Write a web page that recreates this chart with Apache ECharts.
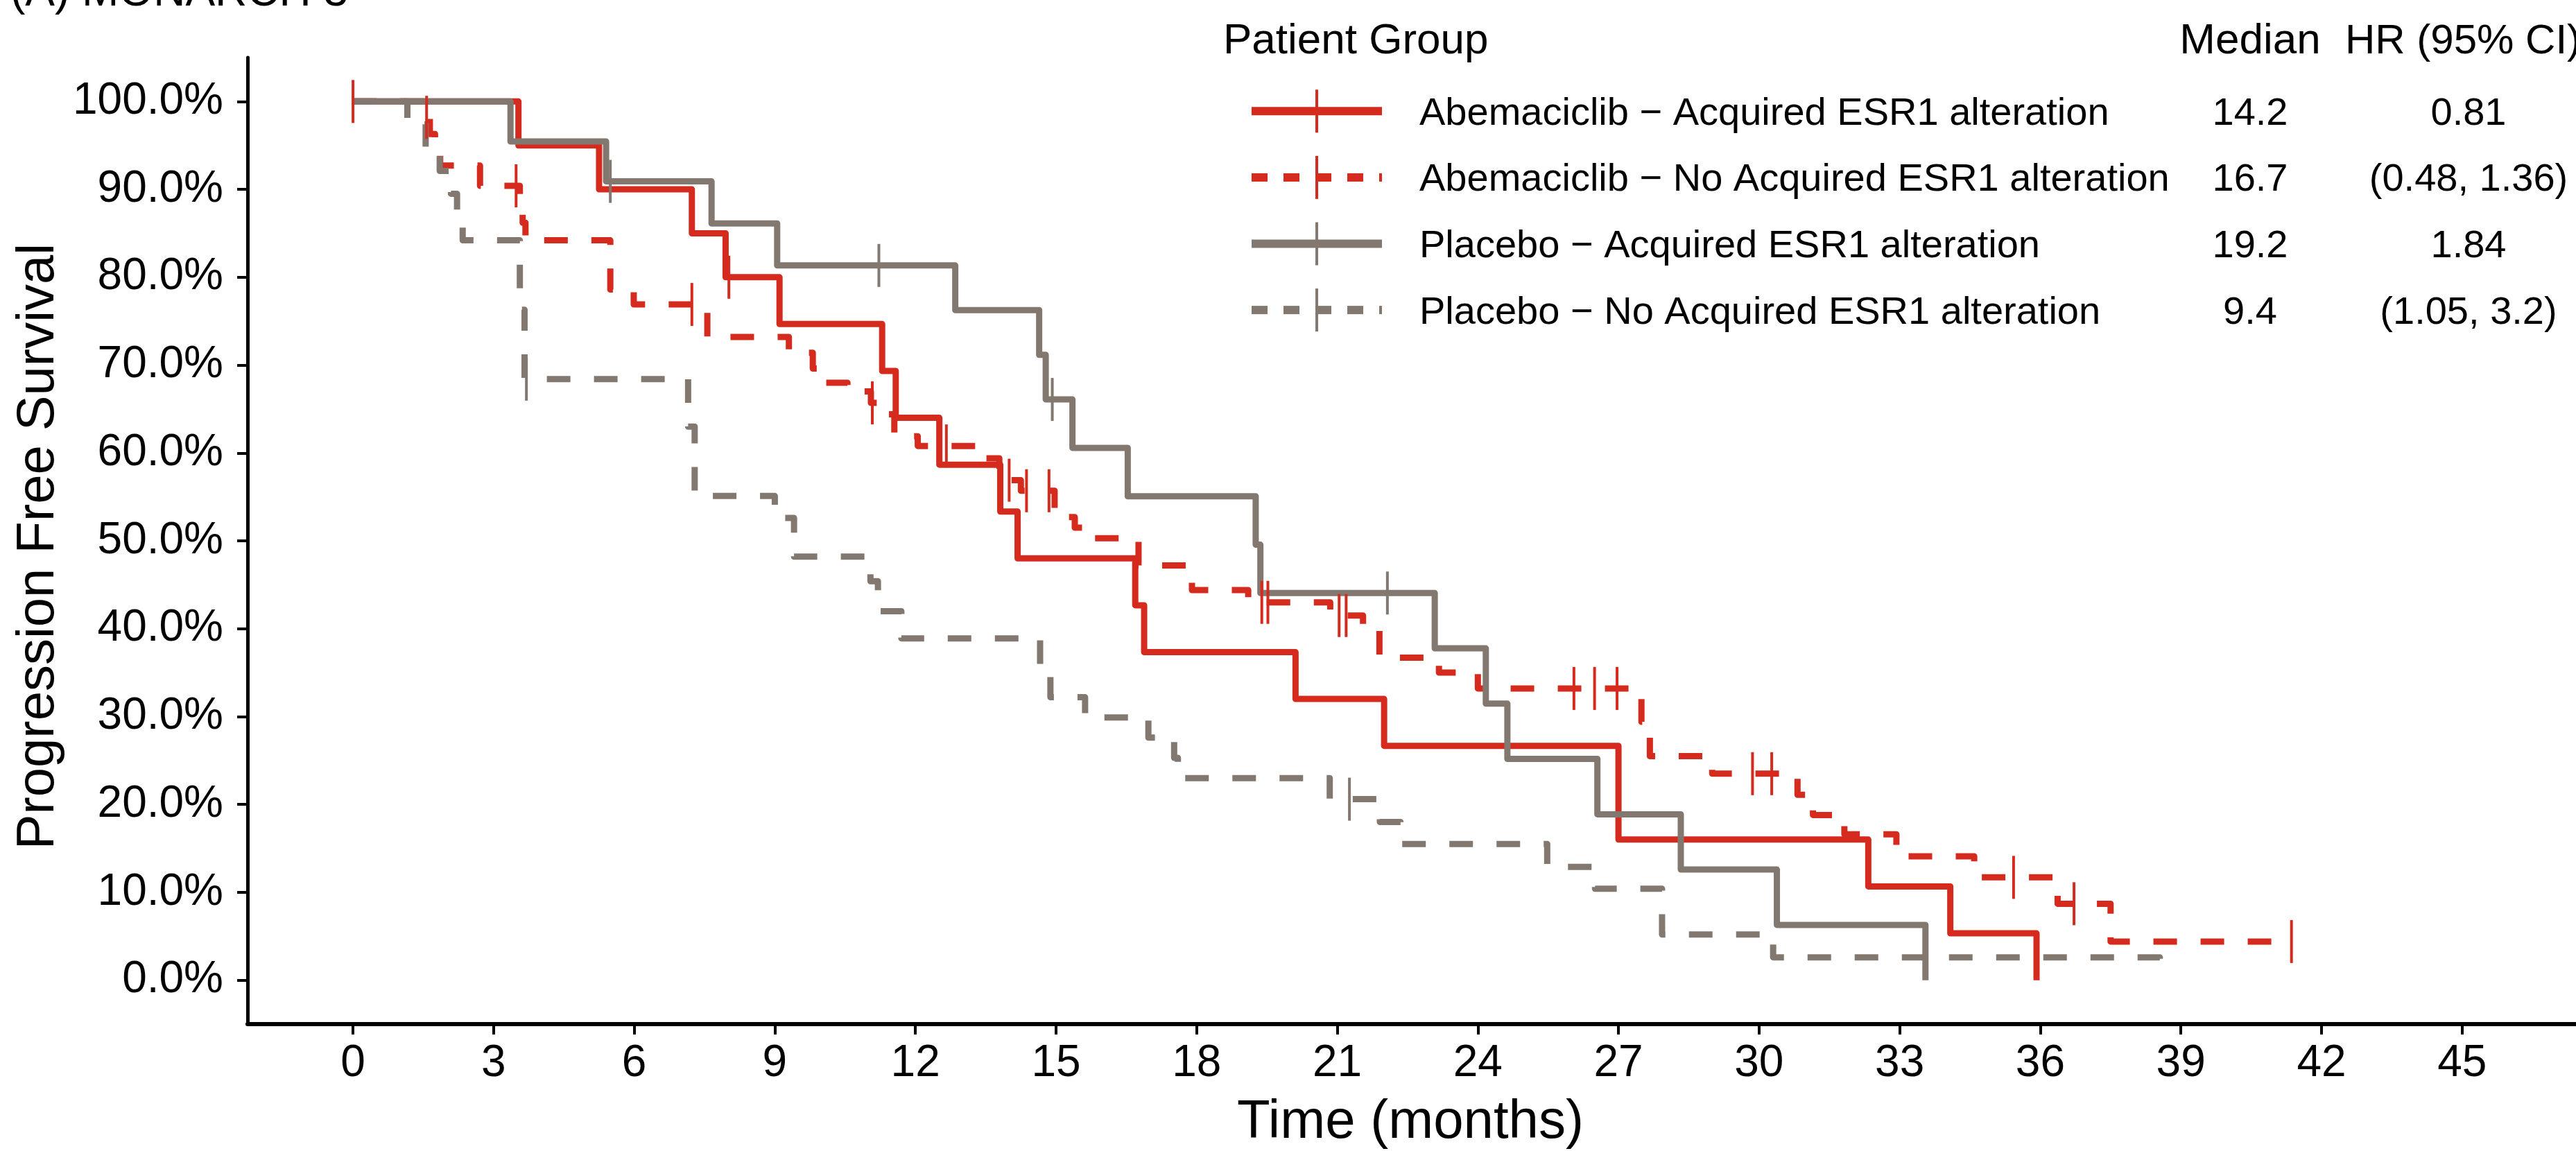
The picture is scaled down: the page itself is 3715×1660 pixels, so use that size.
<!DOCTYPE html>
<html>
<head>
<meta charset="utf-8">
<title>Progression Free Survival by ESR1 alteration</title>
<script src="https://cdn.jsdelivr.net/npm/echarts@6/dist/echarts.min.js"></script>
<style>
  html, body { margin: 0; padding: 0; background: #ffffff; }
  #chart { width: 3715px; height: 1660px; }
</style>
</head>
<body>
<div id="chart"></div>
<script>
// ---- Data -------------------------------------------------------------
const panelTitle = '(A) MONARCH 3';
const xAxisTitle = 'Time (months)';
const yAxisTitle = 'Progression Free Survival';

const xTicks = [0, 3, 6, 9, 12, 15, 18, 21, 24, 27, 30, 33, 36, 39, 42, 45];
const yTicks = [0, 10, 20, 30, 40, 50, 60, 70, 80, 90, 100];

const legendHeader = ['Patient Group', 'Median', 'HR (95% CI)'];
const groupNames = [
  'Abemaciclib \u2212 Acquired ESR1 alteration',
  'Abemaciclib \u2212 No Acquired ESR1 alteration',
  'Placebo \u2212 Acquired ESR1 alteration',
  'Placebo \u2212 No Acquired ESR1 alteration'
];
const medians = ['14.2', '16.7', '19.2', '9.4'];
const hrText = ['0.81', '(0.48, 1.36)', '1.84', '(1.05, 3.2)'];

// Kaplan-Meier steps: event times (months) and survival (%) after each step
const abemaAcqTime = [0, 3.53, 5.25, 7.23, 7.95, 9.1, 11.29, 11.58, 12.51, 13.81, 14.18,
  16.69, 16.88, 20.11, 22.0, 27.0, 32.33, 34.08, 35.92];
const abemaAcqSurv = [100, 95, 90, 85, 80, 74.67, 69.33, 64, 58.67, 53.33, 48,
  42.67, 37.33, 32, 26.67, 16, 10.67, 5.33, 0];
const abemaAcqCensor = [0, 8.02];

const abemaNoAcqTime = [0, 1.5, 1.64, 1.75, 1.86, 2.71, 3.56, 3.62, 3.68, 5.49, 5.99,
  7.56, 9.3, 9.81, 10.07, 10.55, 11.05, 11.24, 11.55, 12.05, 13.37, 13.79, 14.25,
  14.97, 15.4, 15.74, 16.76, 17.9, 19.1, 20.85, 21.55, 21.9, 23.17, 24.0, 27.49,
  27.67, 29.0, 30.82, 31.15, 31.82, 32.93, 34.59, 36.37, 37.5, 41.36];
const abemaNoAcqSurv = [100, 98.2, 96.3, 94.5, 92.7, 90.4, 88.3, 86.2, 84.2, 78.6, 76.9,
  73.2, 71.4, 69.6, 68.0, 67.0, 65.7, 64.4, 61.9, 60.8, 59.4, 56.9, 55.7,
  52.7, 51.5, 50.3, 47.2, 44.4, 43.0, 41.5, 39.9, 36.7, 35.0, 33.2, 29.4,
  25.5, 23.5, 21.1, 18.8, 16.6, 14.1, 11.7, 8.7, 4.4, 4.4];
const abemaNoAcqCensor = [1.57, 3.48, 7.23, 11.08, 12.66, 14.0, 14.37, 14.85, 19.39, 19.52,
  21.04, 21.19, 26.05, 26.49, 26.97, 29.86, 30.27, 35.43, 36.72, 41.36];

const placeboAcqTime = [0, 3.36, 5.4, 7.65, 9.05, 12.85, 14.64, 14.78, 15.35, 16.53, 19.26,
  19.36, 23.08, 24.17, 24.63, 26.55, 28.33, 30.38, 33.55];
const placeboAcqSurv = [100, 95.45, 90.91, 86.12, 81.34, 76.26, 71.17, 66.09, 60.58, 55.07, 49.56,
  44.06, 37.76, 31.47, 25.18, 18.88, 12.59, 6.29, 0];
const placeboAcqCensor = [5.49, 11.22, 14.92, 22.07];

const placeboNoAcqTime = [0, 1.16, 1.55, 1.85, 2.09, 2.22, 2.34, 3.56, 3.66, 7.15, 7.29,
  9.0, 9.41, 11.04, 11.2, 11.7, 14.66, 14.88, 15.62, 16.97, 17.52, 17.6, 20.84,
  21.91, 22.35, 25.48, 26.5, 27.93, 30.3, 38.55];
const placeboNoAcqSurv = [100, 97.4, 94.7, 92.1, 89.5, 86.8, 84.2, 76.3, 68.4, 63.0, 55.1,
  52.6, 48.2, 45.4, 42.0, 38.9, 35.6, 32.2, 29.9, 27.6, 25.3, 23.0, 20.6,
  18.0, 15.5, 12.9, 10.4, 5.2, 2.6, 0];
const placeboNoAcqCensor = [3.7, 21.26];

// ---- Styling -----------------------------------------------------------
const RED = '#D52B1E';
const GRAY = '#82786F';
const FONT = "'Liberation Sans', Arial, Helvetica, sans-serif";
const DASH = [34, 34];

const groups = [
  { time: abemaAcqTime, surv: abemaAcqSurv, censor: abemaAcqCensor, color: RED, dashed: false },
  { time: abemaNoAcqTime, surv: abemaNoAcqSurv, censor: abemaNoAcqCensor, color: RED, dashed: true },
  { time: placeboAcqTime, surv: placeboAcqSurv, censor: placeboAcqCensor, color: GRAY, dashed: false },
  { time: placeboNoAcqTime, surv: placeboNoAcqSurv, censor: placeboNoAcqCensor, color: GRAY, dashed: true }
];

// survival level of a step curve at time t
function levelAt(times, surv, t) {
  let v = surv[0];
  for (let i = 0; i < times.length; i++) {
    if (times[i] <= t) v = surv[i]; else break;
  }
  return v;
}

const lineSeries = groups.map((g, i) => ({
  name: groupNames[i],
  type: 'line',
  step: 'end',
  symbol: 'none',
  showSymbol: false,
  silent: true,
  animation: false,
  z: 2,
  data: g.time.map((t, k) => [t, g.surv[k]]),
  lineStyle: {
    color: g.color,
    width: 9,
    type: g.dashed ? DASH : 'solid',
    cap: 'butt',
    join: 'round'
  }
}));

const censorSeries = groups.map((g, i) => ({
  name: groupNames[i] + ' censored',
  type: 'scatter',
  symbol: 'rect',
  symbolSize: [4, 62],
  silent: true,
  animation: false,
  z: 3,
  itemStyle: { color: g.color, opacity: 1 },
  data: g.censor.map(t => [t, levelAt(g.time, g.surv, t)])
}));

// ---- Legend table (drawn as graphics) ---------------------------------
const legendGraphics = [];
const rowY0 = 164.3, rowStep = 95.6;
const keyX1 = 1805, keyX2 = 1993, keyMid = 1899;
legendGraphics.push(
  { type: 'text', x: 1764, y: 60, silent: true,
    style: { text: legendHeader[0], font: '62px ' + FONT, fill: '#000',
             align: 'left', textAlign: 'left', verticalAlign: 'middle', textVerticalAlign: 'middle' } },
  { type: 'text', x: 3245, y: 60, silent: true,
    style: { text: legendHeader[1], font: '62px ' + FONT, fill: '#000',
             align: 'center', textAlign: 'center', verticalAlign: 'middle', textVerticalAlign: 'middle' } },
  { type: 'text', x: 3382, y: 60, silent: true,
    style: { text: legendHeader[2], font: '60px ' + FONT, fill: '#000',
             align: 'left', textAlign: 'left', verticalAlign: 'middle', textVerticalAlign: 'middle' } }
);
groups.forEach((g, i) => {
  const yText = rowY0 + rowStep * i;
  const yKey = yText - 4;
  legendGraphics.push(
    { type: 'line', silent: true,
      shape: { x1: keyX1, y1: yKey, x2: keyX2, y2: yKey },
      style: { stroke: g.color, lineWidth: 12, lineDash: g.dashed ? [23, 23] : null, lineCap: 'butt' } },
    { type: 'line', silent: true,
      shape: { x1: keyMid, y1: yKey - 31, x2: keyMid, y2: yKey + 31 },
      style: { stroke: g.color, lineWidth: 4 } },
    { type: 'text', x: 2047, y: yText, silent: true,
      style: { text: groupNames[i], font: '56px ' + FONT, fill: '#000',
               align: 'left', textAlign: 'left', verticalAlign: 'middle', textVerticalAlign: 'middle' } },
    { type: 'text', x: 3245, y: yText, silent: true,
      style: { text: medians[i], font: '56px ' + FONT, fill: '#000',
               align: 'center', textAlign: 'center', verticalAlign: 'middle', textVerticalAlign: 'middle' } },
    { type: 'text', x: 3560, y: yText, silent: true,
      style: { text: hrText[i], font: '56px ' + FONT, fill: '#000',
               align: 'center', textAlign: 'center', verticalAlign: 'middle', textVerticalAlign: 'middle' } }
  );
});

// panel label and axis titles
const titleGraphics = [
  { type: 'text', x: 15, y: -10, silent: true,
    style: { text: panelTitle, font: '64px ' + FONT, fill: '#000',
             align: 'left', textAlign: 'left', verticalAlign: 'middle', textVerticalAlign: 'middle' } },
  { type: 'text', x: 2034, y: 1619, silent: true,
    style: { text: xAxisTitle, font: '78px ' + FONT, fill: '#000',
             align: 'center', textAlign: 'center', verticalAlign: 'middle', textVerticalAlign: 'middle' } },
  { type: 'text', x: 56, y: 788, rotation: Math.PI / 2, silent: true,
    style: { text: yAxisTitle, font: '76px ' + FONT, fill: '#000',
             align: 'center', textAlign: 'center', verticalAlign: 'middle', textVerticalAlign: 'middle' } }
];

// ---- Chart -------------------------------------------------------------
const chart = echarts.init(document.getElementById('chart'), null, { renderer: 'canvas' });
chart.setOption({
  backgroundColor: '#ffffff',
  animation: false,
  grid: { left: 357, right: 0, top: 83, bottom: 183, containLabel: false },
  xAxis: {
    type: 'value',
    min: -2.25,
    max: 47.43,
    axisLine: { show: true, onZero: false, lineStyle: { color: '#000', width: 6 } },
    axisTick: { show: true, length: 15, customValues: xTicks, lineStyle: { color: '#000', width: 4 } },
    axisLabel: { show: true, customValues: xTicks, margin: 25, color: '#000',
                 fontSize: 64, fontFamily: FONT },
    splitLine: { show: false }
  },
  yAxis: {
    type: 'value',
    min: -5,
    max: 105,
    axisLine: { show: true, onZero: false, lineStyle: { color: '#000', width: 5 } },
    axisTick: { show: true, length: 15, customValues: yTicks, lineStyle: { color: '#000', width: 4 } },
    axisLabel: { show: true, customValues: yTicks, margin: 35, color: '#000',
                 fontSize: 64, fontFamily: FONT,
                 formatter: v => Number(v).toFixed(1) + '%' },
    splitLine: { show: false }
  },
  series: lineSeries.concat(censorSeries),
  graphic: { elements: titleGraphics.concat(legendGraphics) }
});
</script>
</body>
</html>
